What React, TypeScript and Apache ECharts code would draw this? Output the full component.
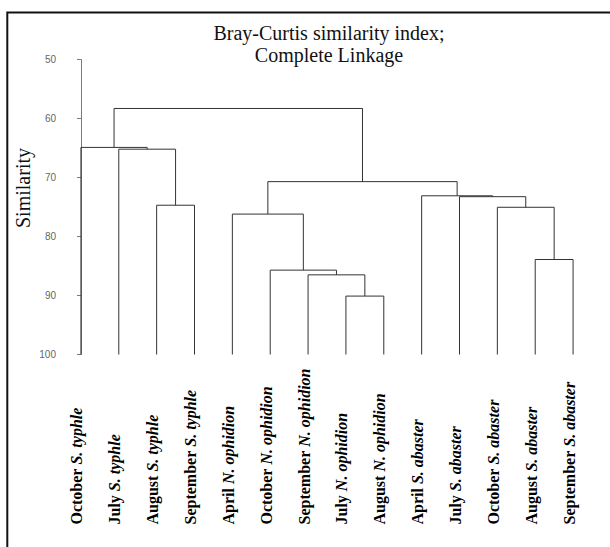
import React, { useEffect, useRef } from "react";
import * as echarts from "echarts";

// Leaves (left to right)
const leafMonths = [
  "October", "July", "August", "September",
  "April", "October", "September", "July", "August",
  "April", "July", "October", "August", "September",
];
const leafTaxa = [
  "S. typhle", "S. typhle", "S. typhle", "S. typhle",
  "N. ophidion", "N. ophidion", "N. ophidion", "N. ophidion", "N. ophidion",
  "S. abaster", "S. abaster", "S. abaster", "S. abaster", "S. abaster",
];
// Merges: children are leaf indices (0..13) or cluster ids (14 + merge index)
const mergeLeft = [2, 1, 0, 7, 6, 5, 4, 12, 11, 10, 9, 20, 16];
const mergeRight = [3, 14, 15, 8, 17, 18, 19, 13, 21, 22, 23, 24, 25];
const mergeSimilarity = [74.7, 65.2, 64.9, 90.1, 86.5, 85.7, 76.2, 83.9, 75.05, 73.25, 73.1, 70.7, 58.3];
const yTicks = { min: 50, max: 100, interval: 10 };

const titleText = "Bray-Curtis similarity index;\nComplete Linkage";
const yName = "Similarity";

export default function App() {
  const ref = useRef<HTMLDivElement>(null);
  useEffect(() => {
    if (!ref.current) return;
    const chart = echarts.init(ref.current, undefined, { renderer: "svg" });
    const n = leafMonths.length;
    const nodeX: number[] = [];
    const nodeH: number[] = [];
    for (let i = 0; i < n; i++) {
      nodeX.push(i);
      nodeH.push(100);
    }
    const series: any[] = [];
    mergeLeft.forEach((l, k) => {
      const r = mergeRight[k];
      const h = mergeSimilarity[k];
      series.push({
        type: "line",
        xAxisIndex: 1,
        yAxisIndex: 0,
        symbol: "none",
        silent: true,
        lineStyle: { color: "#333", width: 1 },
        data: [
          [nodeX[l], nodeH[l]],
          [nodeX[l], h],
          [nodeX[r], h],
          [nodeX[r], nodeH[r]],
        ],
      });
      nodeX.push((nodeX[l] + nodeX[r]) / 2);
      nodeH.push(h);
    });
    const categories = leafMonths.map((m, i) => m + " " + leafTaxa[i]);
    chart.setOption({
      animation: false,
      backgroundColor: "#fff",
      grid: { left: 62, top: 59.5, width: 530, height: 295, outerBoundsMode: "none", containLabel: false },
      xAxis: [
        {
          type: "category",
          data: categories,
          boundaryGap: true,
          axisLine: { show: false },
          axisTick: { show: false },
          splitLine: { show: false },
          axisLabel: {
            interval: 0,
            rotate: 90,
            align: "left",
            verticalAlign: "middle",
            margin: 170,
            padding: [0, 0, 8, 0],
            formatter: (_v: string, i: number) => `{m|${leafMonths[i]} }{t|${leafTaxa[i]}}`,
            rich: {
              m: { fontFamily: "Liberation Serif", fontSize: 16, fontWeight: "bold", color: "#000" },
              t: { fontFamily: "Liberation Serif", fontSize: 16, fontWeight: "bold", fontStyle: "italic", color: "#000" },
            },
          },
        },
        { type: "value", min: -0.5, max: n - 0.5, show: false },
      ],
      yAxis: {
        type: "value",
        inverse: true,
        min: yTicks.min,
        max: yTicks.max,
        interval: yTicks.interval,
        axisLine: { show: true, lineStyle: { color: "#7a7a7a", width: 1 } },
        axisTick: { show: true, length: 4, lineStyle: { color: "#7a7a7a" } },
        splitLine: { show: false },
        axisLabel: { color: "#666", fontSize: 10, fontFamily: "Liberation Sans", margin: 6 },
      },
      graphic: [
        {
          type: "rect",
          shape: { x: 7.3, y: 12.5, width: 650, height: 600 },
          style: { fill: "none", stroke: "#111", lineWidth: 2 },
          silent: true,
        },
        {
          type: "text",
          x: 329,
          y: 21.5,
          style: {
            text: titleText,
            align: "center",
            verticalAlign: "top",
            fontSize: 20,
            lineHeight: 22.4,
            fontFamily: "Liberation Serif",
            fill: "#111",
          },
        },
        {
          type: "text",
          x: 22.5,
          y: 188,
          rotation: Math.PI / 2,
          style: {
            text: yName,
            align: "center",
            verticalAlign: "middle",
            fontSize: 20,
            fontFamily: "Liberation Serif",
            fill: "#111",
          },
        },
      ],
      series,
    });
    return () => chart.dispose();
  }, []);
  return (
    <div
      ref={ref}
      style={{ position: "fixed", left: 0, top: 0, width: 610, height: 547, background: "#fff" }}
    />
  );
}
